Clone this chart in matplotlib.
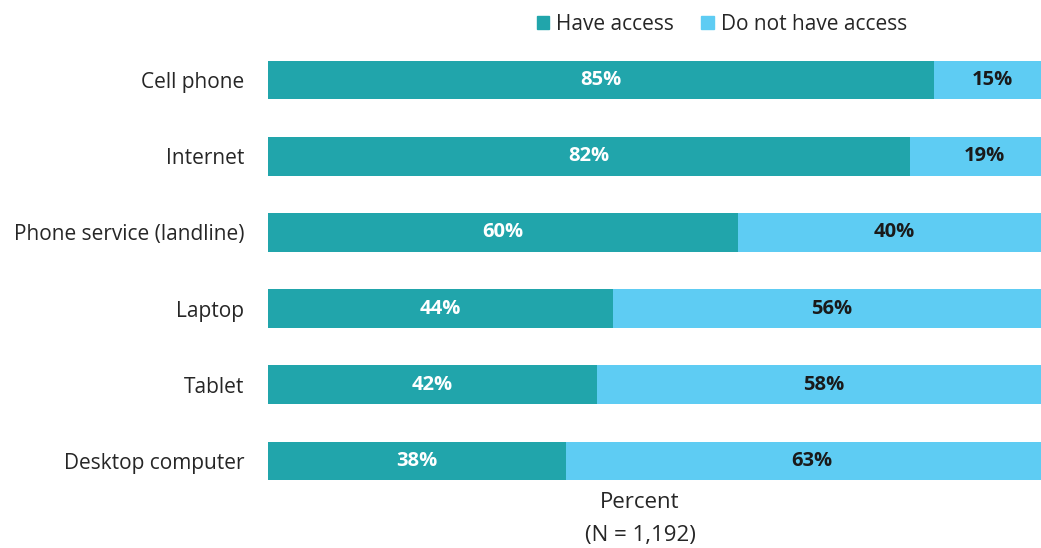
import matplotlib.pyplot as plt
from matplotlib.patches import Patch

# Access to devices and services, percent of respondents
categories = ['Cell phone', 'Internet', 'Phone service (landline)',
              'Laptop', 'Tablet', 'Desktop computer']
have_access = [85, 82, 60, 44, 42, 38]
no_access = [15, 19, 40, 56, 58, 63]

TEAL = '#21A5AB'
SKY = '#5ECCF3'

plt.rcParams['font.family'] = ['Open Sans', 'DejaVu Sans']

fig = plt.figure(figsize=(10.41, 5.48), dpi=100)
ax = fig.add_axes([268 / 1041, 0.0892, 1 - 268 / 1041, 0.8343])

y = list(range(len(categories)))
ax.barh(y, have_access, height=0.51, color=TEAL)
ax.barh(y, no_access, left=have_access, height=0.51, color=SKY)

# percent labels in the middle of each segment
for i in y:
    ax.text(have_access[i] / 2, i, '{}%'.format(have_access[i]),
            ha='center', va='center', color='white',
            fontsize=14.5, fontweight='bold')
    ax.text(have_access[i] + no_access[i] / 2, i, '{}%'.format(no_access[i]),
            ha='center', va='center', color='#1a1a1a',
            fontsize=14.5, fontweight='bold')

ax.set_xlim(0, 98.7)
ax.set_ylim(5.5, -0.5)
ax.set_yticks(y)
ax.set_yticklabels(categories, fontsize=15, color='#262626')
ax.tick_params(axis='y', length=0, pad=17)
ax.set_xticks([])
for s in ax.spines.values():
    s.set_visible(False)

fig.text(640 / 1041, 1 - 503 / 548, 'Percent', ha='center', va='center',
         fontsize=16, color='#262626')
fig.text(640 / 1041, 1 - 535 / 548, '(N = 1,192)', ha='center', va='center',
         fontsize=16, color='#262626')

handles = [Patch(color=TEAL, label='Have access'),
           Patch(color=SKY, label='Do not have access')]
fig.legend(handles=handles, loc='center', ncol=2, frameon=False,
           bbox_to_anchor=(722 / 1041, 1 - 24 / 548),
           fontsize=15, handlelength=0.6, handleheight=0.6,
           handletextpad=0.35, columnspacing=1.3, labelcolor='#262626')

fig.savefig('out.png', dpi=100)
